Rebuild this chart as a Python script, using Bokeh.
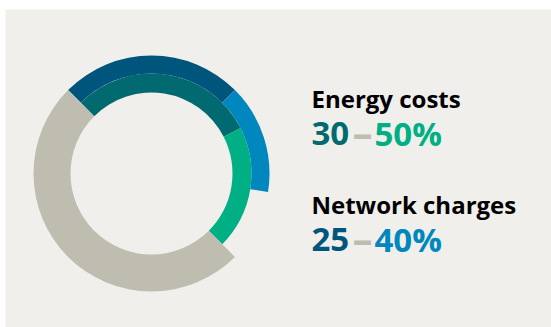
from bokeh.plotting import figure
from bokeh.models import Range1d, ColumnDataSource
from bokeh.core.properties import value
from bokeh.embed import file_html
from bokeh.resources import INLINE

# ---- data ----
categories = ["Energy costs", "Network charges"]
low_values = [30, 25]      # percent
high_values = [50, 40]     # percent
low_colors = ["#006a70", "#00557c"]
high_colors = ["#00af84", "#0087be"]
rest_color = "#bebdb0"
bg_color = "#f0efeb"

# ---- layout ----
W, H = 551, 327
left_pad, top_pad = 5, 9
fw, fh = W - left_pad, H - top_pad
cx, cy = 146, 154
start_compass = -45.0
ring_radii = [(81, 100), (100, 118)]   # energy inner ring, network outer ring
rest_radii = (81, 118)

p = figure(width=W, height=H, output_backend="svg", toolbar_location=None,
           x_range=Range1d(0, fw), y_range=Range1d(0, fh),
           min_border_left=left_pad, min_border_top=top_pad,
           min_border_right=0, min_border_bottom=0)
p.axis.visible = False
p.grid.visible = False
p.outline_line_color = None
p.background_fill_color = bg_color
p.border_fill_color = "white"


def to_math(c):
    return 90.0 - c


xs, ys, rin, rout, sa, ea, cols = [], [], [], [], [], [], []
for i in range(len(categories)):
    r0, r1 = ring_radii[i]
    c0 = start_compass
    c1 = start_compass + low_values[i] * 3.6
    c2 = start_compass + high_values[i] * 3.6
    for a, b, col in [(c0, c1, low_colors[i]), (c1, c2, high_colors[i])]:
        xs.append(cx); ys.append(cy); rin.append(r0); rout.append(r1)
        sa.append(to_math(a)); ea.append(to_math(b)); cols.append(col)

rest_start = start_compass + max(high_values) * 3.6
xs.append(cx); ys.append(cy); rin.append(rest_radii[0]); rout.append(rest_radii[1])
sa.append(to_math(rest_start)); ea.append(to_math(start_compass + 360)); cols.append(rest_color)

src = ColumnDataSource(dict(x=xs, y=ys, rin=rin, rout=rout, sa=sa, ea=ea, c=cols))
p.annular_wedge(x="x", y="y", inner_radius="rin", outer_radius="rout",
                start_angle="sa", end_angle="ea", start_angle_units="deg",
                end_angle_units="deg", direction="clock",
                fill_color="c", line_color=None, source=src)

font = value("Open Sans")
tx = 306
title_y = [229, 123]
value_y = [194, 88]
for i, cat in enumerate(categories):
    p.text(x=[tx], y=[title_y[i]], text=[cat], text_font=font,
           text_font_size="24px", text_font_style="bold", text_color="#000000",
           text_baseline="alphabetic", text_align="left")
    pieces = [(f"{low_values[i]}", low_colors[i], tx, "33px", 0),
              ("\u2013", rest_color, tx + 41, "40px", 2),
              (f"{high_values[i]}%", high_colors[i], tx + 63, "33px", 0)]
    for t, col, x, fs, dy in pieces:
        p.text(x=[x], y=[value_y[i] + dy], text=[t], text_font=font,
               text_font_size=fs, text_font_style="bold", text_color=col,
               text_baseline="alphabetic", text_align="left")

open("out.html", "w").write(file_html(p, INLINE))
